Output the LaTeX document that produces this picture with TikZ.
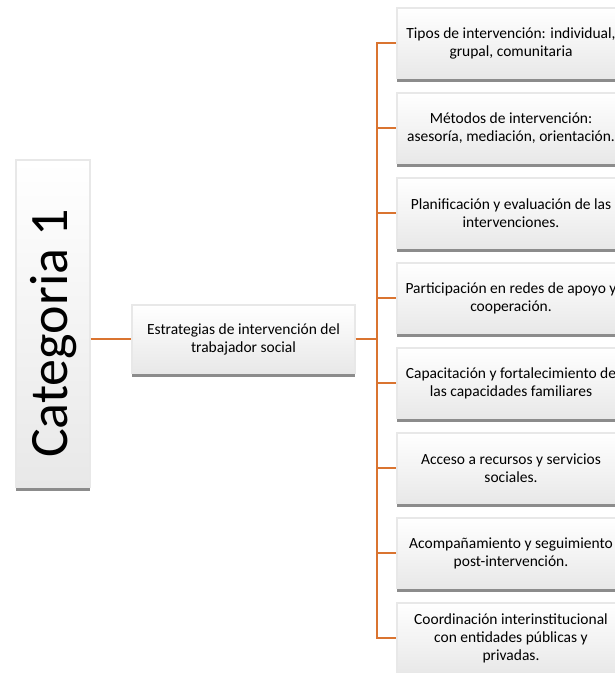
\documentclass[tikz,border=0pt]{standalone}
\usepackage{fontspec}
\setmainfont{Carlito}
\usetikzlibrary{shadows,calc}
\definecolor{conn}{RGB}{218,116,48}
\tikzset{
  x=1pt, y=-1pt,
  boxbase/.style={rectangle, inner sep=2pt, top color=white, bottom color=black!9,
    draw=black!9, line width=1.2pt, align=center, text=black,
    drop shadow={shadow xshift=0pt, shadow yshift=-3.5pt, fill=black!45, opacity=1}},
  leaf/.style={boxbase, minimum width=228pt, minimum height=70pt,
    font=\fontsize{15.5}{18}\selectfont},
  midbox/.style={boxbase, minimum width=223pt, minimum height=68pt,
    font=\fontsize{15.5}{18}\selectfont},
  catbox/.style={boxbase, minimum width=74pt, minimum height=327pt},
  link/.style={draw=conn, line width=1.8pt},
}
\begin{document}
\begin{tikzpicture}
\clip (0,0) rectangle (615,673);
\fill[white] (0,0) rectangle (615,673);
\node[catbox] (cat) at (53,323.5) {};
\node[rotate=90, font=\fontsize{54}{58}\selectfont] (cattext) at ([xshift=1pt,yshift=-10pt]cat.center) {Categoria 1};
\node[midbox] (mid) at (243.5,339) {Estrategias de intervención del\\trabajador social};
\node[leaf] (r1) at (511,43) {Tipos de intervención: individual,\\grupal, comunitaria};
\node[leaf] (r2) at (511,128) {Métodos de intervención:\\asesoría, mediación, orientación.};
\node[leaf] (r3) at (511,213) {Planificación y evaluación de las\\intervenciones.};
\node[leaf] (r4) at (511,298) {Participación en redes de apoyo y\\cooperación.};
\node[leaf] (r5) at (511,383) {Capacitación y fortalecimiento de\\las capacidades familiares};
\node[leaf] (r6) at (511,468) {Acceso a recursos y servicios\\sociales.};
\node[leaf] (r7) at (511,553) {Acompañamiento y seguimiento\\post-intervención.};
\node[leaf] (r8) at (511,638) {Coordinación interinstitucional\\con entidades públicas y\\privadas.};
\coordinate (bus) at (377,339);
\draw[link, line width=1.5pt] (cat.east |- mid.west) -- (mid.west);
\draw[link] (mid.east) -- (bus);
\foreach \i in {1,...,8} { \draw[link] (bus) |- (r\i.west); }
\end{tikzpicture}
\end{document}
